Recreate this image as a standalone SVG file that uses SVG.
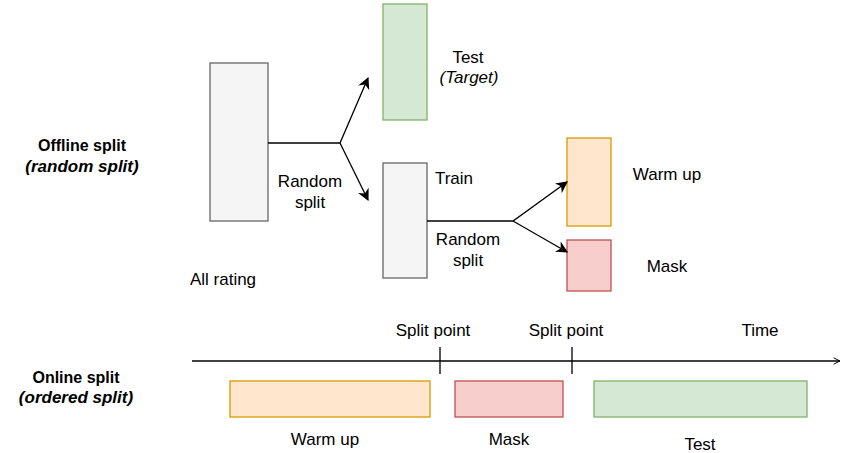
<svg xmlns="http://www.w3.org/2000/svg" width="841" height="453" viewBox="0 0 841 453">
<defs>
<marker id="arr" viewBox="0 0 10 10" refX="9" refY="5" markerWidth="12" markerHeight="12" markerUnits="userSpaceOnUse" orient="auto">
<path d="M0,0 L10,5 L0,10 L3,5 Z" fill="#000"/>
</marker>
<marker id="open" viewBox="0 0 10 10" refX="9" refY="5" markerWidth="8" markerHeight="10" markerUnits="userSpaceOnUse" orient="auto">
<path d="M1,1 L9,5 L1,9" fill="none" stroke="#000" stroke-width="1.2"/>
</marker>
</defs>
<style>
text{font-family:"Liberation Sans",Arial,sans-serif;font-size:17px;fill:#000;text-anchor:middle}
.b{font-weight:bold;font-size:16px}
.bi{font-weight:bold;font-style:italic;font-size:17px}
.i{font-style:italic}
.gray{fill:#f5f5f5;stroke:#666;stroke-width:1.3}
.green{fill:#d5e8d4;stroke:#82b366;stroke-width:1.3}
.orange{fill:#ffe6cc;stroke:#d79b00;stroke-width:1.3}
.red{fill:#f8cecc;stroke:#b85450;stroke-width:1.3}
.ln{fill:none;stroke:#000;stroke-width:1.3}
</style>
<g id="label-offline">
<text class="b" x="82" y="151">Offline split</text>
<text class="bi" x="82" y="172">(random split)</text>
</g>
<g id="label-online">
<text class="b" x="76" y="383">Online split</text>
<text class="bi" x="76" y="403">(ordered split)</text>
</g>
<g id="all-rating">
<rect class="gray" x="210" y="63" width="58" height="158"/>
<text x="223" y="285">All rating</text>
</g>
<g id="test">
<rect class="green" x="383" y="4" width="44" height="116"/>
<text x="468" y="63">Test</text>
<text class="i" x="469" y="83">(Target)</text>
</g>
<g id="train">
<rect class="gray" x="383" y="163" width="44" height="115"/>
<text x="454" y="184">Train</text>
</g>
<g id="warmup">
<rect class="orange" x="567" y="138" width="44" height="88"/>
<text x="667" y="180">Warm up</text>
</g>
<g id="mask">
<rect class="red" x="567" y="240" width="44" height="51"/>
<text x="667" y="272">Mask</text>
</g>
<g id="connectors">
<path class="ln" d="M268,143 H340 L368,78" marker-end="url(#arr)"/>
<path class="ln" d="M340,143 L368,200" marker-end="url(#arr)"/>
<path class="ln" d="M427,221 H513 L567,182" marker-end="url(#arr)"/>
<path class="ln" d="M513,221 L567,252" marker-end="url(#arr)"/>
<path class="ln" d="M192,361 H840" marker-end="url(#open)"/>
<path class="ln" d="M440,347 V374 M572,347 V374"/>
</g>
<g id="labels-split">
<text x="310" y="187">Random</text>
<text x="310" y="208">split</text>
<text x="468" y="245">Random</text>
<text x="468" y="266">split</text>
</g>
<g id="timeline">
<text x="433" y="336">Split point</text>
<text x="566" y="336">Split point</text>
<text x="760" y="336">Time</text>
</g>
<g id="warmup-online">
<rect class="orange" x="230" y="381" width="200" height="36"/>
<text x="325" y="445">Warm up</text>
</g>
<g id="mask-online">
<rect class="red" x="455" y="381" width="108" height="36"/>
<text x="509" y="445">Mask</text>
</g>
<g id="test-online">
<rect class="green" x="594" y="381" width="213" height="36"/>
<text x="700" y="450">Test</text>
</g>
</svg>
